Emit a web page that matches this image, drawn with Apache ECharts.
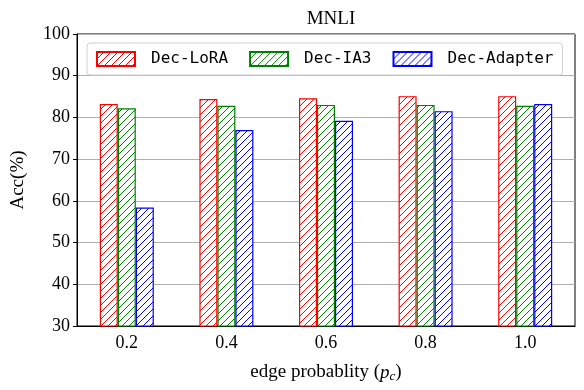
<!DOCTYPE html>
<html>
<head>
    <meta charset="UTF-8">
    <title>MNLI</title>
    <script type="text/javascript" src="https://cdn.jsdelivr.net/npm/echarts@6/dist/echarts.min.js"></script>
    <style>
        html, body { margin: 0; padding: 0; background: #fff; }
        #charts { width: 584px; height: 390px; }
    </style>
</head>
<body>
<div id="charts"></div>
<script type="text/javascript">
    var categories = ['0.2', '0.4', '0.6', '0.8', '1.0'];
    var y_lora = [83.2, 84.4, 84.6, 85.1, 85.1];
    var y_ia3 = [82.2, 82.8, 83.0, 83.0, 82.8];
    var y_adapter = [58.4, 77.0, 79.2, 81.5, 83.2];
    var yTicks = [30, 40, 50, 60, 70, 80, 90, 100];

    // hatch '/' pattern
    function hatch(color) {
        var s = 7;
        var c = document.createElement('canvas');
        c.width = s; c.height = s;
        var ctx = c.getContext('2d');
        ctx.fillStyle = '#fff';
        ctx.fillRect(0, 0, s, s);
        ctx.strokeStyle = color;
        ctx.lineWidth = 1;
        ctx.beginPath();
        ctx.moveTo(-1, s + 1); ctx.lineTo(s + 1, -1);
        ctx.moveTo(-2, 2); ctx.lineTo(2, -2);
        ctx.moveTo(s - 2, s + 2); ctx.lineTo(s + 2, s - 2);
        ctx.stroke();
        return { image: c, repeat: 'repeat' };
    }

    var serif = 'Liberation Serif';
    var chart = echarts.init(document.getElementById('charts'));

    function bar(name, data, color) {
        return {
            name: name,
            type: 'bar',
            data: data,
            barWidth: 18,
            barGap: '0%',
            itemStyle: { color: hatch(color), borderColor: color, borderWidth: 1.2 }
        };
    }

    var option = {
        animation: false,
        title: {
            text: 'MNLI',
            left: 326,
            top: 5,
            textAlign: 'center',
            textStyle: { fontFamily: serif, fontSize: 19, fontWeight: 'normal', color: '#000' }
        },
        legend: {
            left: 87,
            top: 43,
            padding: [8, 9],
            icon: 'rect',
            itemWidth: 38,
            itemHeight: 14,
            itemGap: 21,
            borderColor: '#d0d0d0',
            borderWidth: 1,
            borderRadius: 3,
            textStyle: { fontFamily: 'DejaVu Sans Mono', fontSize: 16, color: '#000', padding: [0, 0, 0, 11] },
            data: ['Dec-LoRA', 'Dec-IA3', 'Dec-Adapter']
        },
        grid: {
            left: 77, right: 9, top: 34, bottom: 64,
            show: true, borderColor: '#000', borderWidth: 1
        },
        xAxis: {
            type: 'category',
            data: categories,
            name: 'edge probablity ({i|p}{sub|c})',
            nameLocation: 'middle',
            nameGap: 36,
            nameTextStyle: {
                fontFamily: serif, fontSize: 19, color: '#000',
                rich: {
                    i: { fontFamily: serif, fontStyle: 'italic', fontSize: 19, color: '#000' },
                    sub: { fontFamily: serif, fontStyle: 'italic', fontSize: 13, color: '#000', padding: [8, 0, 0, 0] }
                }
            },
            axisLine: { lineStyle: { color: '#000', width: 1 } },
            axisTick: { alignWithLabel: true, length: 4, lineStyle: { color: '#000' } },
            axisLabel: { fontFamily: serif, fontSize: 18, color: '#000', margin: 8 },
            splitLine: { show: false }
        },
        yAxis: {
            type: 'value',
            min: yTicks[0],
            max: yTicks[yTicks.length - 1],
            interval: 10,
            name: 'Acc(%)',
            nameLocation: 'middle',
            nameGap: 49,
            nameTextStyle: { fontFamily: serif, fontSize: 19, color: '#000' },
            axisLine: { show: true, lineStyle: { color: '#000', width: 1 } },
            axisTick: { show: true, length: 4, lineStyle: { color: '#000' } },
            axisLabel: { fontFamily: serif, fontSize: 18, color: '#000', margin: 7 },
            splitLine: { show: true, lineStyle: { color: '#b0b0b0', width: 1 } }
        },
        series: [
            bar('Dec-LoRA', y_lora, '#ff0000'),
            bar('Dec-IA3', y_ia3, '#008000'),
            bar('Dec-Adapter', y_adapter, '#0000ff')
        ]
    };

    option && chart.setOption(option);
</script>
</body>
</html>
